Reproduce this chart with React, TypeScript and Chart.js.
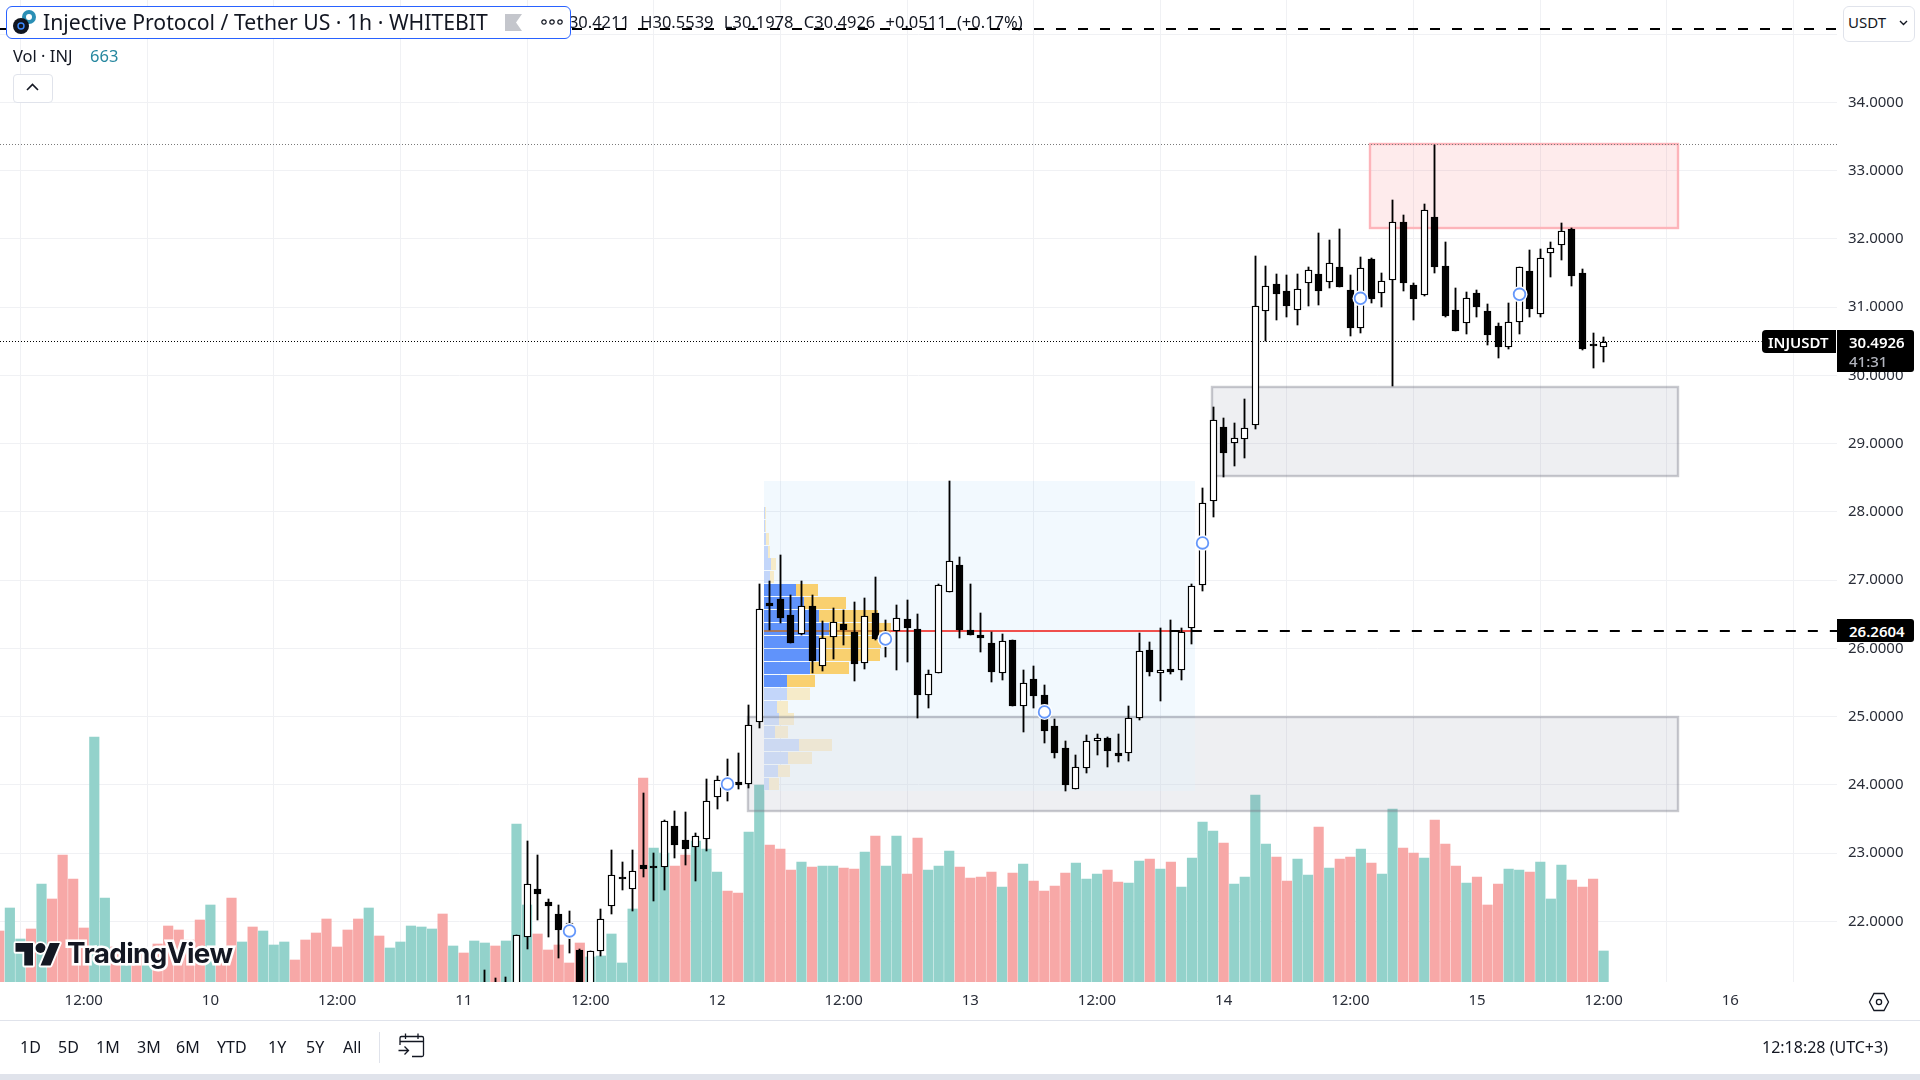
import React, { useEffect, useRef } from "react";
import { Chart, registerables } from "chart.js";

Chart.register(...registerables);

const UI_FONT = "'Noto Sans', sans-serif";

// ---------- x axis (hour index: 0 = 9 Oct 04:00) ----------
const xTickPositions = [8, 20, 32, 44, 56, 68, 80, 92, 104, 116, 128, 140, 152, 164];
const xTickLabels = ["12:00", "10", "12:00", "11", "12:00", "12", "12:00", "13", "12:00", "14", "12:00", "15", "12:00", "16"];
const priceTicks = [22, 23, 24, 25, 26, 27, 28, 29, 30, 31, 32, 33, 34, 35];
const hiddenPriceTick = 35;

// ---------- volume ----------
const volumes = [
  51, 74, 43, 53, 98, 83, 127, 103, 54, 245, 84, 35, 35, 32, 32, 38, 56, 52, 42, 62,
  77, 34, 84, 40, 55, 51, 37, 40, 22, 42, 49, 63, 35, 52, 63, 74, 46, 34, 40, 56,
  55, 53, 68, 36, 29, 41, 39, 36, 41, 158, 77, 48, 32, 37, 19, 39, 25, 26, 48, 19,
  73, 204, 134, 129, 116, 127, 141, 133, 110, 91, 89, 150, 197, 137, 133, 112, 120, 115, 116, 116,
  114, 113, 130, 146, 116, 146, 108, 144, 112, 116, 131, 115, 104, 105, 110, 95, 109, 118, 101, 91,
  96, 109, 119, 103, 108, 112, 100, 99, 121, 123, 113, 120, 95, 124, 160, 151, 139, 98, 105, 187,
  138, 125, 101, 123, 107, 155, 114, 123, 125, 133, 119, 108, 173, 134, 129, 124, 162, 138, 116, 99,
  105, 77, 98, 113, 112, 110, 120, 83, 117, 102, 95, 103, 31,
];
const volumeSides = (
  "p g g p g p p p p g g p g p g p p p p p g p p g p g g g p p p p p p p g p g g g g g p g p g g p g g " +
  "g p p p p p g g g g g p g g p p g g g p p g g p p p g p g g p p g p g g p p g g g p p p p g p g p p " +
  "p p g g g p p g g p g p g g g g p g g g g p p g g p g p p g p g g p p g p p p g p p p g g p g g g p p p g"
).split(" ");
const volumeGreen = "#93d2cb";
const volumePink = "#f7a8a7";

// ---------- candles (first candle at hour index 46) ----------
const firstCandle = 46;
const opens = [
  21.05, 21.05, 21.0, 20.9, 21.774, 22.473, 22.283, 22.107, 21.953, 21.58, 20.95, 21.56, 22.229, 22.655, 22.469, 22.825, 22.806, 22.8, 23.396, 23.191,
  23.084, 23.21, 23.826, 23.997, 24.041, 24.007, 24.916, 26.664, 26.718, 26.488, 26.205, 26.62, 25.736, 26.161, 26.356, 26.239, 25.78, 26.517, 26.107, 26.249,
  26.429, 26.283, 25.32, 25.634, 26.829, 27.221, 26.268, 26.195, 26.078, 25.634, 26.122, 25.159, 25.55, 25.316, 24.862, 24.539, 23.939, 24.251, 24.646, 24.686,
  24.466, 24.47, 24.983, 25.975, 25.643, 25.697, 25.687, 26.293, 26.932, 28.154, 29.243, 29.004, 29.062, 29.267, 30.938, 31.333, 31.231, 30.952, 31.348, 31.48,
  31.363, 31.587, 31.25, 30.689, 31.7, 31.202, 31.392, 32.246, 31.323, 31.172, 32.32, 31.602, 30.957, 30.762, 31.206, 30.942, 30.722, 30.419, 30.777, 31.528,
  30.894, 31.788, 31.905, 32.144, 31.495, 30.464, 30.4211,
];
const highs = [
  21.286, 21.174, 21.184, 21.795, 23.177, 22.972, 22.327, 22.239, 22.151, 21.6, 21.56, 22.18, 23.045, 22.869, 23.045, 23.875, 23.001, 23.484, 23.616, 23.601,
  23.294, 24.085, 24.129, 24.378, 24.462, 25.169, 26.942, 26.986, 27.367, 26.781, 26.986, 26.781, 26.4, 26.591, 26.561, 26.678, 26.737, 27.045, 26.415, 26.635,
  26.708, 26.503, 25.682, 26.942, 28.451, 27.338, 26.942, 26.517, 26.239, 26.21, 26.122, 25.682, 25.741, 25.462, 24.964, 24.642, 24.437, 24.73, 24.745, 24.7,
  24.745, 25.155, 26.224, 26.093, 26.298, 26.415, 26.298, 26.942, 28.349, 29.536, 29.374, 29.301, 29.653, 31.748, 31.602, 31.484, 31.47, 31.484, 31.587, 32.085,
  31.983, 32.144, 31.47, 31.733, 31.719, 31.499, 32.569, 32.349, 31.348, 32.51, 33.374, 31.953, 31.279, 31.221, 31.25, 31.045, 30.766, 31.059, 31.587, 31.836,
  31.851, 31.953, 32.232, 32.154, 31.553, 30.62, 30.5539,
];
const lows = [
  20.8, 20.8, 20.8, 20.8, 21.599, 22.019, 21.774, 21.462, 21.531, 20.8, 20.8, 21.492, 22.111, 22.459, 22.155, 22.654, 22.298, 22.459, 22.928, 22.825,
  22.591, 23.035, 23.646, 23.767, 23.934, 23.958, 24.837, 26.268, 26.375, 26.073, 26.199, 25.642, 25.672, 25.843, 26.048, 25.521, 25.697, 26.122, 25.873, 25.682,
  25.799, 24.979, 25.125, 25.634, 26.829, 26.155, 26.199, 25.95, 25.511, 25.54, 25.159, 24.774, 25.125, 24.613, 24.393, 23.909, 23.939, 24.173, 24.437, 24.261,
  24.334, 24.349, 24.949, 25.594, 25.228, 25.623, 25.535, 26.063, 26.844, 27.928, 28.514, 28.676, 28.793, 29.218, 30.507, 30.815, 30.859, 30.741, 31.02, 31.035,
  31.284, 31.298, 30.58, 30.624, 31.064, 31.005, 29.843, 31.24, 30.815, 31.166, 31.503, 30.859, 30.653, 30.61, 30.859, 30.449, 30.258, 30.39, 30.61, 30.859,
  30.859, 31.445, 31.694, 31.313, 30.375, 30.111, 30.1978,
];
const closes = [
  21.0, 21.0, 21.05, 21.795, 22.542, 22.4, 22.229, 21.873, 21.975, 20.9, 21.56, 22.029, 22.674, 22.645, 22.733, 22.771, 22.796, 23.465, 23.118, 23.059,
  23.246, 23.758, 24.066, 24.027, 23.997, 24.872, 26.572, 26.62, 26.448, 26.082, 26.615, 25.818, 26.147, 26.381, 26.268, 25.774, 26.469, 26.136, 26.151, 26.44,
  26.298, 25.316, 25.619, 26.923, 27.275, 26.268, 26.199, 26.151, 25.657, 26.103, 25.159, 25.487, 25.301, 24.793, 24.466, 23.997, 24.261, 24.638, 24.681, 24.495,
  24.422, 24.974, 25.956, 25.653, 25.678, 25.653, 26.235, 26.908, 28.125, 29.341, 28.866, 29.077, 29.223, 31.011, 31.304, 31.196, 31.02, 31.26, 31.539, 31.24,
  31.641, 31.298, 30.698, 31.568, 31.122, 31.377, 32.242, 31.357, 31.122, 32.418, 31.591, 30.873, 30.653, 31.128, 31.005, 30.595, 30.419, 30.777, 31.583, 30.976,
  31.714, 31.861, 32.11, 31.459, 30.39, 30.454, 30.4926,
];

// ---------- markers ----------
const markerHours = [54, 69, 84, 99, 114, 129, 144];
const markerPrices = [21.858, 24.012, 26.136, 25.067, 27.543, 31.128, 31.187];

// ---------- zones (hour index, price) ----------
const zoneStarts = [129.85, 114.9, 70.9];
const zoneEnds = [159.0, 159.0, 159.0];
const zoneTops = [33.394, 29.829, 24.993];
const zoneBottoms = [32.158, 28.529, 23.621];

// ---------- volume profile ----------
const profileStartHour = 72.45;
const profileEndHour = 113.3;
const profileTop = 28.451;
const profileBottom = 23.909;
const profileLevels = [
  28.071, 27.883, 27.694, 27.505, 27.316, 27.126, 26.937, 26.748, 26.559, 26.369, 26.18,
  25.991, 25.802, 25.612, 25.423, 25.234, 25.045, 24.855, 24.666, 24.477, 24.287, 24.098,
];
const profileBlue = [1, 1, 2, 4, 7, 6, 32, 40, 55, 65, 55, 55, 46, 23, 23, 13, 15, 11, 35, 24, 14, 5];
const profileYellow = [1, 1, 3, 2, 5, 4, 22, 42, 59, 62, 62, 61, 39, 28, 23, 11, 15, 13, 33, 24, 12, 10];
const profileStrong = [0, 0, 0, 0, 0, 0, 1, 1, 1, 1, 1, 1, 1, 1, 0, 0, 0, 0, 0, 0, 0, 0];

// ---------- levels ----------
const lastPrice = 30.4926;
const pocPrice = 26.2604;
const highDotted = 33.385;
const topDashed = 35.074;
const xMin = 0.066;
const xMax = 174.11;
const yMin = 21.11;
const yMax = 35.499;

const toXY = (x: number, y: number) => ({ x, y });

const zonesPlugin = {
  id: "zones",
  beforeDatasetDraw(chart: any, args: any) {
    if (args.index !== 1) return;
    const { ctx, scales } = chart;
    const X = scales.x, Y = scales.y;
    ctx.save();
    const bx = Math.round(X.getPixelForValue(profileStartHour));
    const bxe = Math.round(X.getPixelForValue(profileEndHour));
    const bt = Math.round(Y.getPixelForValue(profileTop));
    const bb = Math.round(Y.getPixelForValue(profileBottom));
    ctx.fillStyle = "rgba(20,150,230,0.055)";
    ctx.fillRect(bx, bt, bxe - bx, bb - bt);
    profileLevels.forEach((lvl, i) => {
      const yt = Math.round(Y.getPixelForValue(lvl));
      const strong = profileStrong[i] === 1;
      ctx.fillStyle = strong ? "#6093fb" : "#c3d6fa";
      ctx.fillRect(bx, yt, profileBlue[i], 12);
      ctx.fillStyle = strong ? "#f9d06f" : "#f6ebc9";
      ctx.fillRect(bx + profileBlue[i], yt, profileYellow[i], 12);
    });
    zoneStarts.forEach((s, i) => {
      const x0 = Math.round(X.getPixelForValue(s));
      const x1 = Math.round(X.getPixelForValue(zoneEnds[i]));
      const y0 = Math.round(Y.getPixelForValue(zoneTops[i]));
      const y1 = Math.round(Y.getPixelForValue(zoneBottoms[i]));
      const red = i === 0;
      ctx.fillStyle = red ? "rgba(242,54,69,0.1)" : "rgba(120,125,150,0.125)";
      ctx.fillRect(x0, y0, x1 - x0, y1 - y0);
      // the part of the profile box that lies inside the lower zone reads paler
      if (i === 2) {
        ctx.fillStyle = "rgba(255,255,255,0.28)";
        ctx.fillRect(bx, y0 + 1, bxe - bx, bb - y0 - 1);
      }
      ctx.strokeStyle = red ? "#fdb4ba" : "rgba(120,123,134,0.4)";
      ctx.lineWidth = 2.4;
      ctx.strokeRect(x0, y0, x1 - x0, y1 - y0);
    });
    ctx.restore();
  },
};

const snapPlugin = {
  id: "snap",
  afterDatasetsUpdate(chart: any) {
    chart.data.datasets.forEach((ds: any, i: number) => {
      const meta = chart.getDatasetMeta(i);
      if (ds.snap === "bar") {
        meta.data.forEach((el: any) => {
          el.x = Math.floor(el.x) + 0.5;
          let top = Math.round(Math.min(el.y, el.base));
          let bot = Math.round(Math.max(el.y, el.base));
          if (bot - top < ds.minHeight) bot = top + ds.minHeight;
          el.y = top;
          el.base = bot;
          el.height = bot - top;
        });
      } else if (ds.snap === "line") {
        meta.data.forEach((el: any) => {
          el.y = ds.borderWidth % 2 ? Math.floor(el.y) + 0.5 : Math.round(el.y);
        });
      } else if (ds.snap === "point") {
        meta.data.forEach((el: any) => {
          el.x = Math.floor(el.x) + 0.5;
        });
      }
    });
  },
};

function Ui({ style, children }: any) {
  return <div style={{ position: "absolute", whiteSpace: "nowrap", fontFamily: UI_FONT, color: "#131722", lineHeight: 1, ...style }}>{children}</div>;
}

function CenterY({ x, y, size, color, weight, spacing, children }: any) {
  return (
    <Ui style={{ left: x, top: y, transform: "translateY(-50%)", fontSize: size, color: color || "#131722", fontWeight: weight || 400, wordSpacing: spacing || 0 }}>
      {children}
    </Ui>
  );
}

const rangeLabels = ["1D", "5D", "1M", "3M", "6M", "YTD", "1Y", "5Y", "All"];
const rangeLefts = [20, 58, 96, 137, 176, 217, 268, 306, 343];

export default function App() {
  const ref = useRef<HTMLCanvasElement | null>(null);
  useEffect(() => {
    document.body.style.margin = "0";
    const lineDs = (pts: any[], color: string, width: number, dash: number[], order: number) => ({
      type: "line",
      data: pts,
      borderColor: color,
      borderWidth: width,
      borderDash: dash,
      pointRadius: 0,
      order,
      fill: false,
      tension: 0,
      snap: "line",
      yAxisID: "y",
      borderCapStyle: "butt",
    });
    const candleX = (i: number) => firstCandle + i;
    const chart = new Chart(ref.current as HTMLCanvasElement, {
      type: "bar",
      data: {
        datasets: [
          {
            data: volumes.map((v, i) => toXY(i, v)),
            yAxisID: "vol",
            backgroundColor: volumeSides.map((s) => (s === "g" ? volumeGreen : volumePink)),
            barThickness: 9.5,
            grouped: false,
            order: 20,
          },
          lineDs([toXY(xMin, topDashed), toXY(xMax, topDashed)], "#000000", 2, [10, 12], 15),
          lineDs([toXY(xMin, highDotted), toXY(xMax, highDotted)], "#7a7a7a", 1, [1, 2], 14),
          lineDs([toXY(xMin, lastPrice), toXY(166.96, lastPrice)], "#000000", 1, [1, 2], 13),
          lineDs([toXY(profileStartHour, pocPrice), toXY(84.4, pocPrice)], "rgba(190,110,40,0.75)", 2, [], 12),
          lineDs([toXY(84.4, pocPrice), toXY(profileEndHour, pocPrice)], "#ef4f4c", 2, [], 11),
          lineDs([toXY(110.9, pocPrice), toXY(xMax, pocPrice)], "#000000", 2, [10, 12], 10),
          {
            data: highs.map((h, i) => ({ x: candleX(i), y: [lows[i], h] })),
            yAxisID: "y",
            backgroundColor: "#000000",
            barThickness: 1.2,
            grouped: false,
            order: 5,
            snap: "bar",
            minHeight: 1,
          },
          {
            data: opens.map((o, i) => ({ x: candleX(i), y: [o, closes[i]] })),
            yAxisID: "y",
            backgroundColor: opens.map((o, i) => (closes[i] >= o ? "#ffffff" : "#000000")),
            borderColor: "#000000",
            borderWidth: 1.4,
            borderSkipped: false,
            barThickness: 7,
            grouped: false,
            order: 4,
            snap: "bar",
            minHeight: 2,
          },
          {
            type: "scatter",
            data: markerHours.map((h, i) => toXY(h, markerPrices[i])),
            yAxisID: "y",
            pointRadius: 8,
            pointBackgroundColor: "#ffffff",
            pointBorderWidth: 0,
            order: 2,
            snap: "point",
          },
          {
            type: "scatter",
            data: markerHours.map((h, i) => toXY(h, markerPrices[i])),
            yAxisID: "y",
            pointRadius: 5.8,
            pointBackgroundColor: "#ffffff",
            pointBorderColor: "#6497fb",
            pointBorderWidth: 1.8,
            order: 1,
            snap: "point",
          },
        ] as any,
      },
      options: {
        animation: false,
        responsive: false,
        devicePixelRatio: 1,
        layout: { padding: 0, autoPadding: false },
        plugins: { legend: { display: false }, tooltip: { enabled: false } },
        scales: {
          x: {
            type: "linear",
            min: xMin,
            max: xMax,
            offset: false,
            grid: { color: "#f0f1f4", drawTicks: false, lineWidth: 1 },
            border: { display: false },
            afterBuildTicks(s: any) {
              s.ticks = xTickPositions.map((value) => ({ value }));
            },
            afterFit(s: any) {
              s.height = 98;
              s.paddingLeft = 0;
              s.paddingRight = 0;
            },
            ticks: {
              autoSkip: false,
              maxRotation: 0,
              padding: 10,
              color: "#2a2e39",
              font: { family: UI_FONT, size: 15 },
              callback: (_v: any, i: number) => xTickLabels[i],
            },
          },
          y: {
            type: "linear",
            position: "right",
            min: yMin,
            max: yMax,
            grid: { color: "#f0f1f4", drawTicks: false, lineWidth: 1 },
            border: { display: false },
            afterBuildTicks(s: any) {
              s.ticks = priceTicks.map((value) => ({ value }));
            },
            afterFit(s: any) {
              s.width = 83;
              s.paddingTop = 0;
              s.paddingBottom = 0;
            },
            ticks: {
              padding: 11,
              color: "#2a2e39",
              font: { family: UI_FONT, size: 15 },
              callback: (v: any) => (v === hiddenPriceTick ? "" : Number(v).toFixed(4)),
            },
          },
          vol: { type: "linear", display: false, min: 0, max: 982 },
        },
      } as any,
      plugins: [zonesPlugin, snapPlugin] as any,
    } as any);
    return () => chart.destroy();
  }, []);

  return (
    <div style={{ position: "fixed", left: 0, top: 0, width: 1920, height: 1080, overflow: "hidden", background: "#fff" }}>
      <canvas ref={ref} width={1920} height={1080} style={{ position: "absolute", left: 0, top: 0, width: 1920, height: 1080, display: "block" }} />

      {/* OHLC text */}
      <CenterY x={556} y={22} size={16.5} spacing={6}>
        O30.4211 H30.5539 L30.1978 C30.4926 +0.0511 (+0.17%)
      </CenterY>

      {/* title box */}
      <div style={{ position: "absolute", left: 6, top: 6, width: 563, height: 31, border: "1.5px solid #2962ff", borderRadius: 6, background: "#fff" }} />
      <svg style={{ position: "absolute", left: 12, top: 10 }} width={26} height={26} viewBox="0 0 26 26">
        <circle cx={17} cy={7} r={7} fill="#2a8fb5" />
        <circle cx={17} cy={7} r={3} fill="#fff" />
        <circle cx={9} cy={16} r={8} fill="#10151f" />
        <circle cx={9} cy={16} r={3} fill="none" stroke="#3d8bff" strokeWidth={1.4} />
      </svg>
      <CenterY x={43} y={22} size={21.2}>Injective Protocol / Tether US · 1h · WHITEBIT</CenterY>
      <svg style={{ position: "absolute", left: 505, top: 14 }} width={17} height={17} viewBox="0 0 17 17">
        <path d="M0 0H17L11 8.5L17 17H0Z" fill="#c4c6cc" />
      </svg>
      <svg style={{ position: "absolute", left: 540, top: 18 }} width={24} height={8} viewBox="0 0 24 8">
        {[4, 12, 20].map((c) => (
          <circle key={c} cx={c} cy={4} r={2.2} fill="none" stroke="#131722" strokeWidth={1.2} />
        ))}
      </svg>

      {/* volume legend */}
      <CenterY x={13} y={56} size={16.5}>Vol · INJ</CenterY>
      <CenterY x={90} y={56} size={16.5} color="#26879f">663</CenterY>
      <div style={{ position: "absolute", left: 13, top: 74, width: 38, height: 27, border: "1px solid #e0e3eb", borderRadius: 4, background: "#fff" }} />
      <svg style={{ position: "absolute", left: 26, top: 83 }} width={13} height={8} viewBox="0 0 13 8">
        <path d="M1 7L6.5 1.5L12 7" fill="none" stroke="#131722" strokeWidth={1.6} />
      </svg>

      {/* USDT */}
      <div style={{ position: "absolute", left: 1843, top: 6, width: 70, height: 34, border: "1px solid #e0e3eb", borderRadius: 6, background: "#fff" }} />
      <CenterY x={1848} y={22} size={15}>USDT</CenterY>
      <svg style={{ position: "absolute", left: 1899, top: 20 }} width={9} height={6} viewBox="0 0 9 6">
        <path d="M1 1L4.5 4.5L8 1" fill="none" stroke="#131722" strokeWidth={1.4} />
      </svg>

      {/* price labels */}
      <div style={{ position: "absolute", left: 1762, top: 330, width: 74, height: 23, background: "#000", borderRadius: "4px 0 0 4px" }} />
      <CenterY x={1768} y={342} size={15} color="#fff" weight={600}>INJUSDT</CenterY>
      <div style={{ position: "absolute", left: 1837, top: 330, width: 77, height: 42, background: "#000", borderRadius: "0 3px 3px 0" }} />
      <CenterY x={1849} y={342} size={15} color="#fff" weight={600}>30.4926</CenterY>
      <CenterY x={1849} y={361} size={15} color="#b2b5be" weight={500}>41:31</CenterY>
      <div style={{ position: "absolute", left: 1837, top: 619, width: 77, height: 23, background: "#000", borderRadius: "0 3px 3px 0" }} />
      <CenterY x={1849} y={631} size={15} color="#fff" weight={600}>26.2604</CenterY>

      {/* watermark */}
      <svg style={{ position: "absolute", left: 15, top: 938, overflow: "visible" }} width={46} height={30} viewBox="0 0 36 24">
        <g fill="#131722" stroke="#fff" strokeWidth={3} paintOrder="stroke" strokeLinejoin="round">
          <path d="M14 22H7V11H0V4h14v18z" />
          <circle cx={20} cy={8} r={4} />
          <path d="M28 22h-8l7.5-18h8L28 22z" />
        </g>
      </svg>
      <div
        style={{
          position: "absolute",
          left: 67,
          top: 936,
          fontFamily: "Inter, sans-serif",
          fontWeight: 700,
          fontSize: 27.8,
          lineHeight: "34px",
          letterSpacing: -0.6,
          color: "#131722",
          WebkitTextStroke: "5px #fff",
          paintOrder: "stroke fill",
          whiteSpace: "nowrap",
        } as any}
      >
        TradingView
      </div>

      {/* settings icon */}
      <svg style={{ position: "absolute", left: 1868, top: 992 }} width={22} height={20} viewBox="0 0 22 20">
        <path d="M6 1.5H16L20.5 10L16 18.5H6L1.5 10Z" fill="none" stroke="#131722" strokeWidth={1.3} />
        <circle cx={11} cy={10} r={2.6} fill="none" stroke="#131722" strokeWidth={1.3} />
      </svg>

      {/* bottom toolbar */}
      <div style={{ position: "absolute", left: 0, top: 1020, width: 1920, height: 1, background: "#e0e3eb" }} />
      <div style={{ position: "absolute", left: 0, top: 1074, width: 1920, height: 6, background: "#e0e3eb" }} />
      {rangeLabels.map((t, i) => (
        <CenterY key={t} x={rangeLefts[i]} y={1047} size={16}>{t}</CenterY>
      ))}
      <div style={{ position: "absolute", left: 379, top: 1032, width: 1, height: 31, background: "#e0e3eb" }} />
      <svg style={{ position: "absolute", left: 398, top: 1033 }} width={27} height={25} viewBox="0 0 27 25">
        <path d="M2 12V5a1.5 1.5 0 0 1 1.5-1.5H24A1.5 1.5 0 0 1 25.5 5V22A1.5 1.5 0 0 1 24 23.5H14M2 8.5H25.5M7.5 0.5V6M20 0.5V6M0.5 17.5H10M6.5 13.5L10.5 17.5L6.5 21.5" fill="none" stroke="#131722" strokeWidth={1.3} />
      </svg>
      <CenterY x={1762} y={1047} size={16}>12:18:28 (UTC+3)</CenterY>
    </div>
  );
}
